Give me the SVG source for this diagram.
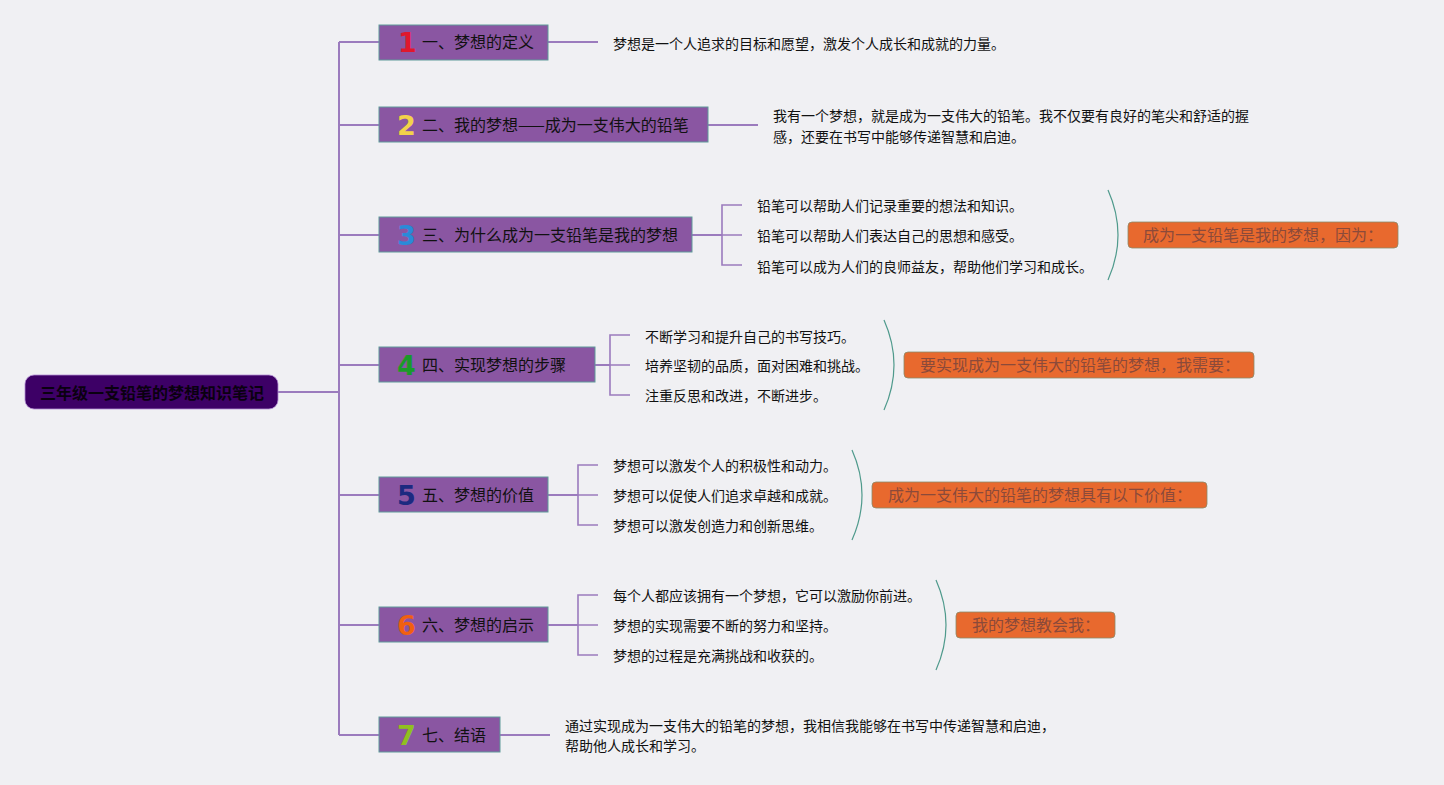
<svg xmlns="http://www.w3.org/2000/svg" width="1444" height="785" viewBox="0 0 1444 785">
<style>
.bg{fill:#f0f0f3}
.topic{fill:#8a56a2;stroke:#5f9a9a;stroke-width:1}
.tt{font-family:"Noto Sans CJK SC","Noto Sans",sans-serif;font-size:16px;fill:#111}
.num{font-family:"DejaVu Sans","Liberation Sans",sans-serif;font-size:27px;font-weight:bold}
.ct{font-family:"Noto Sans CJK SC","Noto Sans",sans-serif;font-size:14px;fill:#111}
.line{fill:none;stroke:#9b7bbd;stroke-width:2}
.thin{fill:none;stroke:#9b7bbd;stroke-width:1.6}
.arc{fill:none;stroke:#4f9a8c;stroke-width:1.2}
.sum{fill:#e8692e;stroke:#8a8a6a;stroke-width:0.8}
.st{font-family:"Noto Sans CJK SC","Noto Sans",sans-serif;font-size:16px;fill:#8b4a3a}
</style>
<rect class="bg" x="0" y="0" width="1444" height="785"/>
<g id="connectors">
<path class="line" d="M278,392 H339 M339,42 V735 M339,42 H379 M339,125 H379 M339,235 H379 M339,365 H379 M339,495 H379 M339,625 H379 M339,735 H379"/>
<path class="line" d="M548,42 H598 M708,125 H758 M692,235 H722 M595,365 H610 M548,495 H578 M548,625 H578 M500,735 H550"/>
<path class="thin" d="M742,205 H722 V265 H742 M722,235 H742"/>
<path class="thin" d="M630,335 H610 V395 H630 M610,365 H630"/>
<path class="thin" d="M598,465 H578 V525 H598 M578,495 H598"/>
<path class="thin" d="M598,595 H578 V655 H598 M578,625 H598"/>
<path class="arc" d="M1108,190 Q1128,235 1108,280"/>
<path class="arc" d="M884,320 Q904,365 884,410"/>
<path class="arc" d="M852,450 Q872,495 852,540"/>
<path class="arc" d="M936,580 Q956,625 936,670"/>
</g>
<g id="root">
<rect x="25" y="375" width="253" height="34" rx="9" fill="#3d0066" stroke="#b08ad0" stroke-width="0.8"/>
<text x="152" y="398.5" text-anchor="middle" font-family="'Noto Sans CJK SC',sans-serif" font-size="16" font-weight="bold" fill="#0a0010">三年级一支铅笔的梦想知识笔记</text>
</g>
<g id="topic1">
<rect class="topic" x="379" y="25" width="169" height="35"/>
<text class="num" x="398" y="52" fill="#e0182d">1</text>
<text class="tt" x="422" y="48">一、梦想的定义</text>
</g>
<g id="detail1"><text class="ct" x="613" y="49">梦想是一个人追求的目标和愿望，激发个人成长和成就的力量。</text></g>
<g id="topic2">
<rect class="topic" x="379" y="107" width="329" height="35"/>
<text class="num" x="397" y="135" fill="#f2d24a">2</text>
<text class="tt" x="422" y="131">二、我的梦想——成为一支伟大的铅笔</text>
</g>
<g id="detail2">
<text class="ct" x="773" y="121">我有一个梦想，就是成为一支伟大的铅笔。我不仅要有良好的笔尖和舒适的握</text>
<text class="ct" x="773" y="142">感，还要在书写中能够传递智慧和启迪。</text>
</g>
<g id="topic3">
<rect class="topic" x="379" y="217" width="313" height="35"/>
<text class="num" x="397" y="245" fill="#2a8ad8">3</text>
<text class="tt" x="422" y="241">三、为什么成为一支铅笔是我的梦想</text>
</g>
<g id="detail3">
<text class="ct" x="757" y="211">铅笔可以帮助人们记录重要的想法和知识。</text>
<text class="ct" x="757" y="241">铅笔可以帮助人们表达自己的思想和感受。</text>
<text class="ct" x="757" y="272">铅笔可以成为人们的良师益友，帮助他们学习和成长。</text>
</g>
<g id="summary3">
<rect class="sum" x="1128" y="222" width="270" height="26" rx="4"/>
<text class="st" x="1143" y="241">成为一支铅笔是我的梦想，因为：</text>
</g>
<g id="topic4">
<rect class="topic" x="379" y="347" width="216" height="35"/>
<text class="num" x="397" y="375" fill="#1a9a2a">4</text>
<text class="tt" x="422" y="371">四、实现梦想的步骤</text>
</g>
<g id="detail4">
<text class="ct" x="645" y="342">不断学习和提升自己的书写技巧。</text>
<text class="ct" x="645" y="371">培养坚韧的品质，面对困难和挑战。</text>
<text class="ct" x="645" y="401">注重反思和改进，不断进步。</text>
</g>
<g id="summary4">
<rect class="sum" x="904" y="352" width="350" height="26" rx="4"/>
<text class="st" x="920" y="371">要实现成为一支伟大的铅笔的梦想，我需要：</text>
</g>
<g id="topic5">
<rect class="topic" x="379" y="477" width="169" height="35"/>
<text class="num" x="397" y="505" fill="#1c2a80">5</text>
<text class="tt" x="422" y="501">五、梦想的价值</text>
</g>
<g id="detail5">
<text class="ct" x="613" y="471">梦想可以激发个人的积极性和动力。</text>
<text class="ct" x="613" y="501">梦想可以促使人们追求卓越和成就。</text>
<text class="ct" x="613" y="531">梦想可以激发创造力和创新思维。</text>
</g>
<g id="summary5">
<rect class="sum" x="872" y="482" width="335" height="26" rx="4"/>
<text class="st" x="888" y="501">成为一支伟大的铅笔的梦想具有以下价值：</text>
</g>
<g id="topic6">
<rect class="topic" x="379" y="607" width="169" height="35"/>
<text class="num" x="397" y="635" fill="#f06010">6</text>
<text class="tt" x="422" y="631">六、梦想的启示</text>
</g>
<g id="detail6">
<text class="ct" x="613" y="601">每个人都应该拥有一个梦想，它可以激励你前进。</text>
<text class="ct" x="613" y="631">梦想的实现需要不断的努力和坚持。</text>
<text class="ct" x="613" y="661">梦想的过程是充满挑战和收获的。</text>
</g>
<g id="summary6">
<rect class="sum" x="956" y="612" width="159" height="26" rx="4"/>
<text class="st" x="972" y="631">我的梦想教会我：</text>
</g>
<g id="topic7">
<rect class="topic" x="379" y="717" width="121" height="35"/>
<text class="num" x="397" y="745" fill="#90c020">7</text>
<text class="tt" x="422" y="741">七、结语</text>
</g>
<g id="detail7">
<text class="ct" x="565" y="731">通过实现成为一支伟大的铅笔的梦想，我相信我能够在书写中传递智慧和启迪，</text>
<text class="ct" x="565" y="751">帮助他人成长和学习。</text>
</g>
</svg>
